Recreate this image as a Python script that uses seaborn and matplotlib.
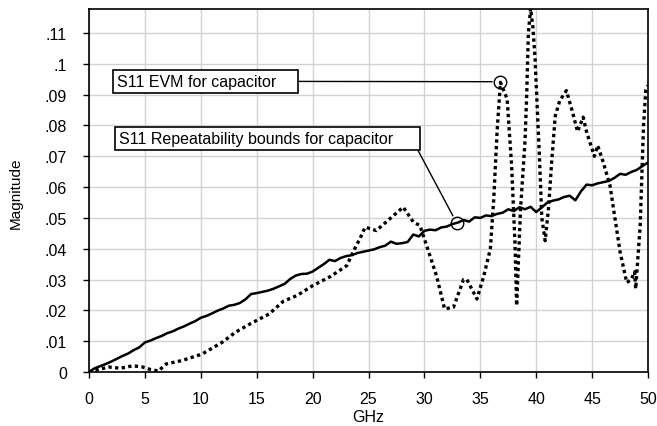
import numpy as np
import pandas as pd
import matplotlib
matplotlib.use("Agg")
import matplotlib.pyplot as plt
from matplotlib.ticker import FuncFormatter
import seaborn as sns

# S11 EVM (dotted) - GHz / magnitude
evm_ghz = [0, 0.8, 1.8, 2.8, 3.9, 4.7, 5.5, 6.2, 6.9, 8.3, 10.1, 11.9, 13.1, 14.4,
           16.1, 17.4, 18.6, 20.0, 21.6, 23.05, 23.9, 24.2, 24.7, 25.7, 26.9, 28.1,
           29.0, 29.6, 30.2, 31.1, 31.8, 32.6, 33.5, 33.8, 34.7, 35.3, 35.9, 36.2,
           36.5, 36.8, 37.4, 37.8, 38.1, 38.25, 38.4, 38.6, 39.0, 39.15, 39.3, 39.5,
           39.7, 39.9, 40.3, 40.5, 40.8, 41.1, 41.4, 41.7, 42.1, 42.7, 43.2, 43.7,
           44.2, 44.5, 45.2, 45.5, 46.0, 46.6, 47.5, 48.1, 48.5, 48.8, 48.9, 49.3,
           49.6, 49.8, 50.0]
evm_mag = [0.0, 0.0008, 0.0016, 0.0012, 0.002, 0.0017, 0.0008, 0.0003, 0.0026, 0.0037,
           0.0058, 0.0096, 0.0129, 0.0156, 0.0188, 0.023, 0.0248, 0.028, 0.031, 0.0345,
           0.041, 0.043, 0.047, 0.0459, 0.0497, 0.0535, 0.0487, 0.0475, 0.041, 0.031,
           0.0205, 0.021, 0.030, 0.030, 0.0237, 0.031, 0.040, 0.056, 0.078, 0.094,
           0.0886, 0.067, 0.042, 0.0215, 0.035, 0.053, 0.075, 0.090, 0.110, 0.118,
           0.112, 0.1016, 0.069, 0.050, 0.0426, 0.053, 0.069, 0.083, 0.088, 0.0913,
           0.085, 0.078, 0.0827, 0.078, 0.070, 0.0735, 0.068, 0.0605, 0.039, 0.029,
           0.030, 0.0325, 0.027, 0.0475, 0.080, 0.0913, 0.093]

# S11 repeatability bounds (solid), every 0.5 GHz, in 1/1000
rep_ghz = [i * 0.5 for i in range(101)]
rep_mag = [0.0, 1.2, 1.9, 2.6, 3.4, 4.3, 5.2, 6.0, 7.1, 8.0,
           9.6, 10.2, 11.0, 11.7, 12.6, 13.2, 14.1, 14.8, 15.7, 16.5,
           17.6, 18.2, 19.0, 19.9, 20.6, 21.5, 21.8, 22.4, 23.6, 25.3,
           25.6, 26.0, 26.4, 27.0, 27.8, 28.6, 30.2, 31.3, 31.8, 31.9,
           32.6, 33.8, 35.0, 36.4, 36.0, 37.0, 37.6, 37.9, 38.6, 39.0,
           39.4, 39.8, 40.5, 41.0, 42.3, 41.6, 41.8, 42.2, 44.6, 44.0,
           45.8, 46.2, 46.0, 46.9, 47.2, 48.0, 48.5, 49.3, 48.8, 50.2,
           50.0, 50.8, 50.6, 51.3, 51.7, 52.8, 52.2, 53.5, 52.8, 53.6,
           51.9, 53.4, 55.0, 55.6, 56.0, 56.8, 57.2, 55.7, 58.6, 60.8,
           60.6, 61.2, 61.6, 62.0, 63.0, 64.3, 64.0, 64.9, 65.6, 66.8,
           68.0]
rep_mag = [v / 1000 for v in rep_mag]

x_ticks = [0, 5, 10, 15, 20, 25, 30, 35, 40, 45, 50]
y_ticks = [0, 0.01, 0.02, 0.03, 0.04, 0.05, 0.06, 0.07, 0.08, 0.09, 0.1, 0.11]

evm_label = "S11 EVM for capacitor"
rep_label = "S11 Repeatability bounds for capacitor"

sns.set_theme(style="whitegrid")
plt.rcParams["font.family"] = ["Liberation Sans", "DejaVu Sans"]
plt.rcParams["text.color"] = "black"
plt.rcParams["axes.labelcolor"] = "black"

fig = plt.figure(figsize=(6.57, 4.27), dpi=100)
ax = fig.add_axes([0.1355, 0.1265, 0.8508, 0.8501])

df_evm = pd.DataFrame({"GHz": evm_ghz, "Magnitude": evm_mag})
df_rep = pd.DataFrame({"GHz": rep_ghz, "Magnitude": rep_mag})

sns.lineplot(data=df_rep, x="GHz", y="Magnitude", ax=ax, color="black", lw=1.8, sort=False)
sns.lineplot(data=df_evm, x="GHz", y="Magnitude", ax=ax, color="black", lw=2.4,
             linestyle=(0, (1, 1)), sort=False)

ax.set_xlim(0, 50)
ax.set_ylim(0, 0.1178)
ax.set_xticks(x_ticks)
ax.set_yticks(y_ticks)
ax.yaxis.set_major_formatter(FuncFormatter(lambda v, p: "0" if v == 0 else ("%.2f" % v).rstrip("0").lstrip("0")))
ax.set_facecolor("white")
ax.grid(True, color="#d2d2d2", lw=1)
for s in ax.spines.values():
    s.set_color("black")
    s.set_linewidth(1.2)
ax.tick_params(axis="both", direction="out", length=4, width=1, color="black",
               labelcolor="black", labelsize=11.5, left=True, bottom=True)
ax.tick_params(axis="y", pad=12)
ax.tick_params(axis="x", pad=10)
ax.set_xlabel("GHz", fontsize=11.5)
ax.set_ylabel("Magnitude", fontsize=11)
ax.xaxis.set_label_coords(0.5, -0.102)
ax.yaxis.set_label_coords(-0.118, 0.494)

# callout circles
ax.plot([36.8], [0.0942], marker="o", ms=9, mfc="none", mec="black", mew=1)
ax.plot([32.9], [0.0483], marker="o", ms=9, mfc="none", mec="black", mew=1)

box = dict(boxstyle="square,pad=0.25", fc="white", ec="black", lw=1.2)
ax.annotate(evm_label + "    ", xy=(36.8, 0.0942), xytext=(2.5, 0.0943), fontsize=11.5,
            va="center", ha="left", bbox=box,
            arrowprops=dict(arrowstyle="-", color="black", lw=1, shrinkA=0, shrinkB=6,
                            relpos=(1, 0.5)))
ax.annotate(rep_label + "     ", xy=(32.9, 0.0483), xytext=(2.68, 0.0758), fontsize=11.5,
            va="center", ha="left", bbox=box,
            arrowprops=dict(arrowstyle="-", color="black", lw=1, shrinkA=0, shrinkB=6,
                            relpos=(1, 0)))

fig.savefig("out.png", dpi=100, facecolor="white")
